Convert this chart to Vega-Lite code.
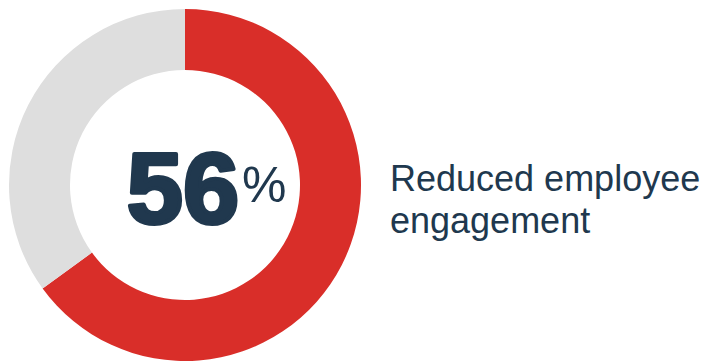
{
  "$schema": "https://vega.github.io/schema/vega-lite/v6.json",
  "width": 370,
  "height": 352,
  "autosize": "none",
  "padding": {"left": 0, "top": 9, "right": 345, "bottom": 0},
  "background": "white",
  "config": {"view": {"stroke": null}},
  "layer": [
    {
      "data": {"values": [
        {"segment": "Reduced employee engagement", "share": 65, "rank": 1},
        {"segment": "Other", "share": 35, "rank": 2}
      ]},
      "mark": {"type": "arc", "outerRadius": 176, "innerRadius": 115},
      "encoding": {
        "theta": {"field": "share", "type": "quantitative", "stack": true},
        "color": {"field": "segment", "type": "nominal", "scale": {"domain": ["Reduced employee engagement", "Other"], "range": ["#d92e29", "#dedede"]}, "legend": null},
        "order": {"field": "rank", "type": "quantitative"}
      }
    },
    {
      "data": {"values": [{"label": "56"}]},
      "mark": {"type": "text", "font": "Liberation Sans", "fontWeight": "bold", "fontSize": 101, "align": "center", "baseline": "alphabetic", "dx": -2, "dy": 38, "color": "#20384e", "stroke": "#20384e", "strokeWidth": 4, "strokeJoin": "round"},
      "encoding": {"text": {"field": "label", "type": "nominal"}}
    },
    {
      "data": {"values": [{"label": "%"}]},
      "mark": {"type": "text", "font": "Liberation Sans", "fontSize": 50, "align": "left", "baseline": "alphabetic", "dx": 57, "dy": 17, "color": "#20384e"},
      "encoding": {"text": {"field": "label", "type": "nominal"}}
    },
    {
      "data": {"values": [{"label": ["Reduced employee", "engagement"]}]},
      "mark": {"type": "text", "font": "Liberation Sans", "fontSize": 36, "lineHeight": 42, "align": "left", "baseline": "alphabetic", "dx": 205, "dy": 6, "color": "#20384e"},
      "encoding": {"text": {"field": "label"}}
    }
  ]
}
